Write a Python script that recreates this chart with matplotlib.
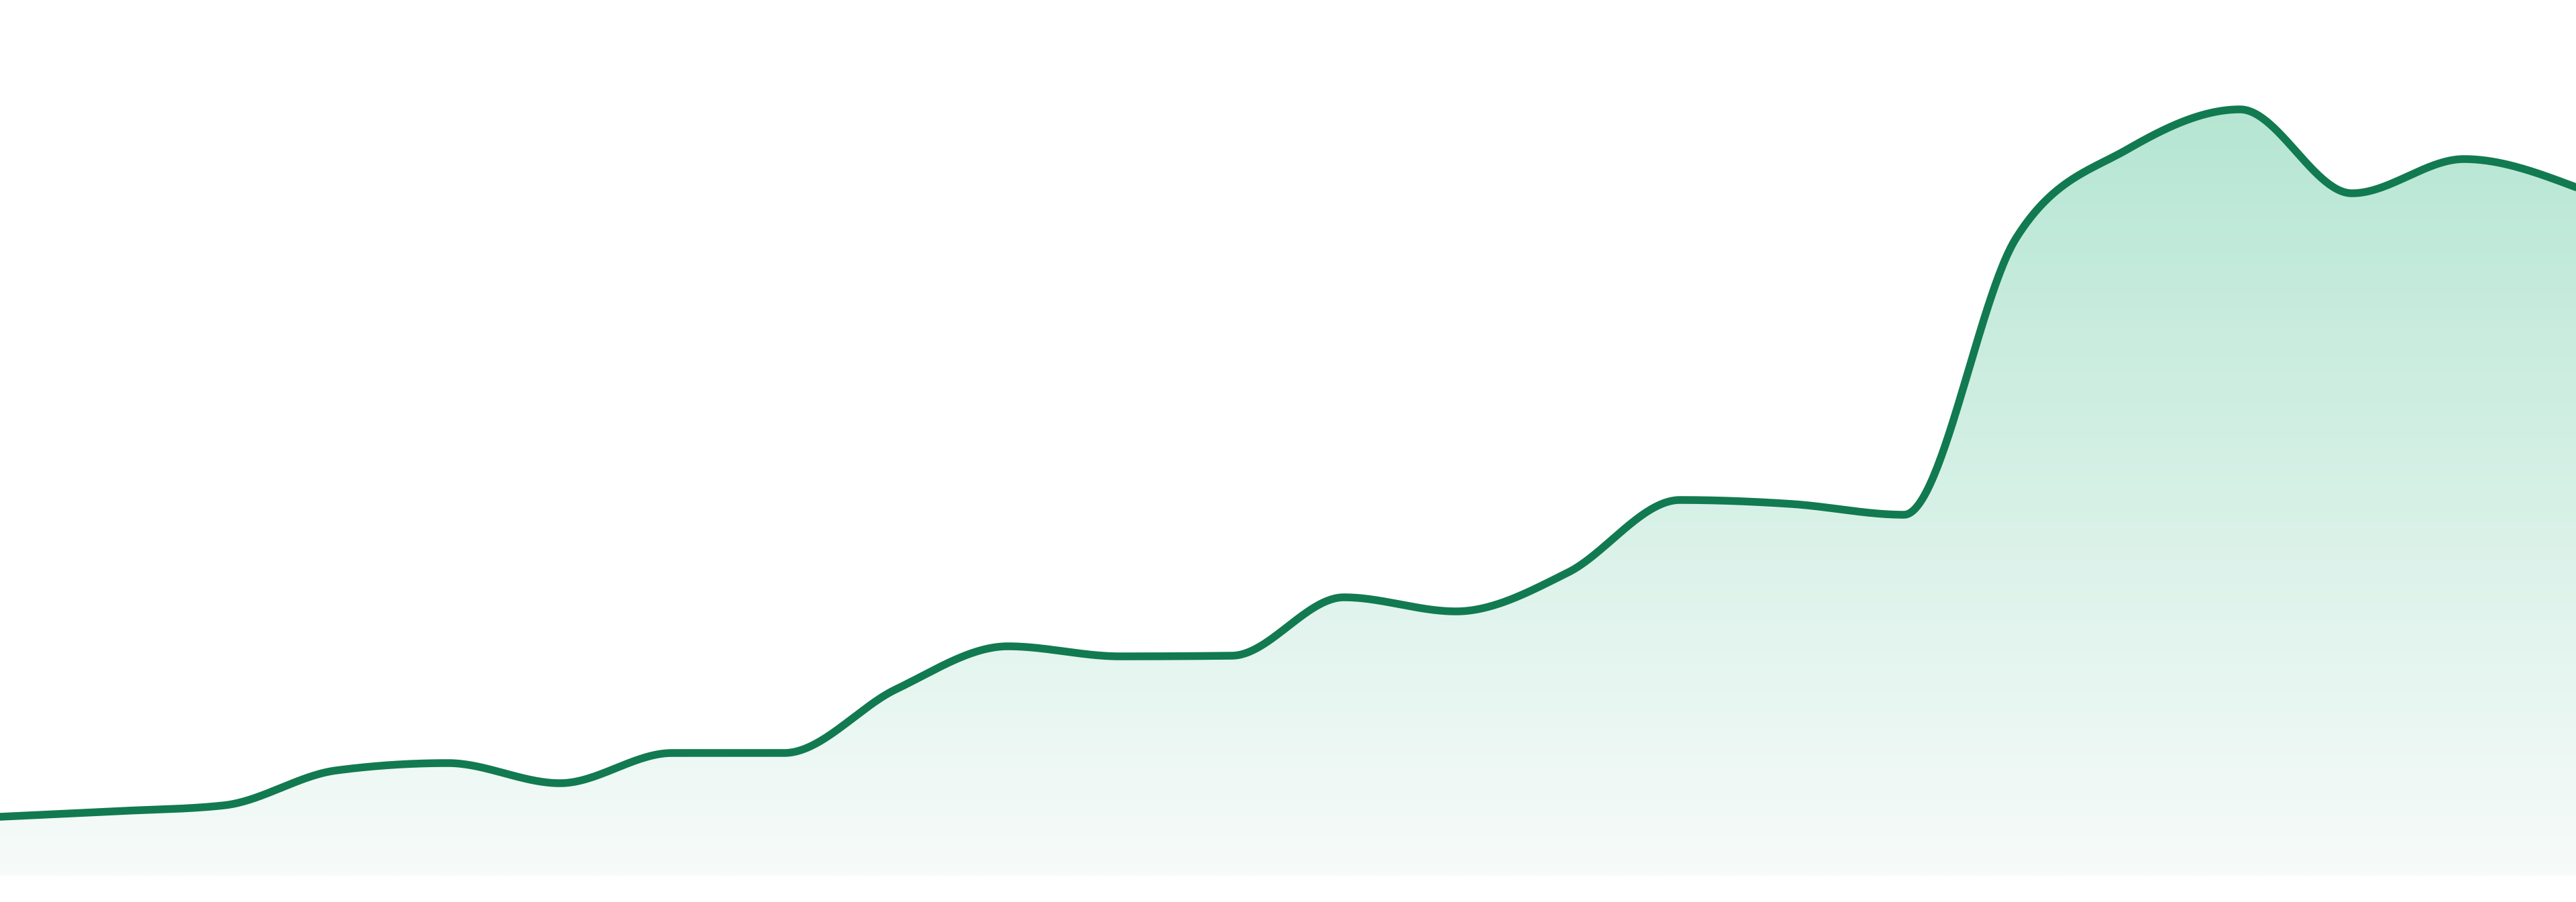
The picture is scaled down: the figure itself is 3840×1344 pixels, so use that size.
import numpy as np
import matplotlib
matplotlib.use("Agg")
import matplotlib.pyplot as plt
from matplotlib.colors import LinearSegmentedColormap

# ---- data (one value per period, baseline = 0) ----
values = [88, 96, 105, 157, 168, 138, 183, 183, 278, 342, 327, 328,
          415, 394, 452, 560, 554, 538, 950, 1083, 1142, 1017, 1068, 1026]
periods = list(range(len(values)))

line_color = "#127a50"
fill_top = "#b6e6d3"
fill_bottom = "#f7fbfa"


def monotone_x(x, y, samples=60):
    """Monotone cubic interpolation (Steffen, as d3.curveMonotoneX)."""
    x = np.asarray(x, float)
    y = np.asarray(y, float)
    n = len(x)
    h = np.diff(x)
    s = np.diff(y) / h
    m = np.zeros(n)
    for i in range(1, n - 1):
        p = (s[i - 1] * h[i] + s[i] * h[i - 1]) / (h[i - 1] + h[i])
        m[i] = (np.sign(s[i - 1]) + np.sign(s[i])) * min(abs(s[i - 1]), abs(s[i]), 0.5 * abs(p))
    m[0] = (3 * s[0] - m[1]) / 2
    m[-1] = (3 * s[-1] - m[-2]) / 2
    xs, ys = [], []
    for i in range(n - 1):
        t = np.linspace(0, 1, samples, endpoint=(i == n - 2))
        h00 = 2 * t**3 - 3 * t**2 + 1
        h10 = t**3 - 2 * t**2 + t
        h01 = -2 * t**3 + 3 * t**2
        h11 = t**3 - t**2
        xs.append(x[i] + t * h[i])
        ys.append(h00 * y[i] + h10 * h[i] * m[i] + h01 * y[i + 1] + h11 * h[i] * m[i + 1])
    return np.concatenate(xs), np.concatenate(ys)


fig = plt.figure(figsize=(38.4, 13.44), dpi=100)
ax = fig.add_axes([0, 0, 1, 1])
ax.set_xlim(periods[0], periods[-1])
ax.set_ylim(-39, 1305)
ax.axis("off")

xs, ys = monotone_x(periods, values)

poly = ax.fill_between(xs, 0, ys, facecolor="none", edgecolor="none")
cmap = LinearSegmentedColormap.from_list("g", [fill_bottom, fill_top])
grad = np.linspace(0, 1, 512).reshape(-1, 1)
im = ax.imshow(grad, cmap=cmap, origin="lower", aspect="auto",
               extent=[periods[0], periods[-1], 0, max(values)], zorder=1,
               interpolation="bilinear")
im.set_clip_path(poly.get_paths()[0], transform=ax.transData)

ax.plot(xs, ys, color=line_color, linewidth=8.3, solid_capstyle="round",
        solid_joinstyle="round", zorder=3)

fig.savefig("out.png", dpi=100, facecolor="white")
